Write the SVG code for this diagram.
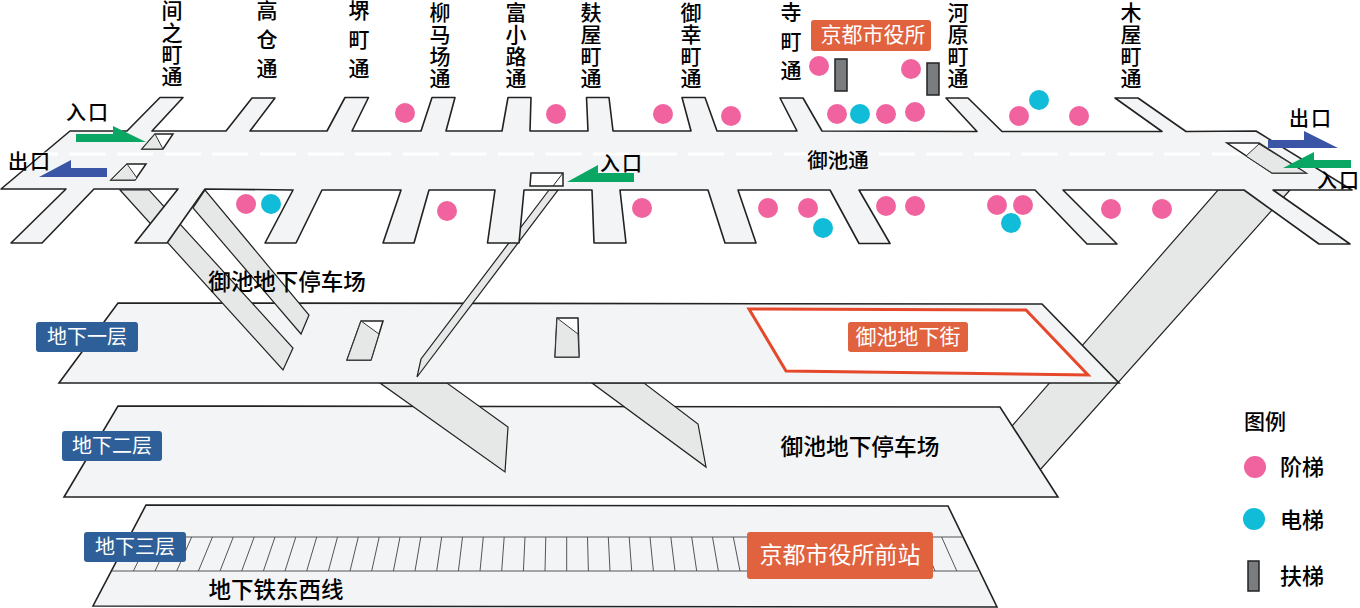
<svg xmlns="http://www.w3.org/2000/svg" width="1360" height="608" viewBox="0 0 1360 608">
<style>
text{font-family:"Noto Sans CJK SC","Noto Sans",sans-serif;fill:#000;font-weight:500}
.c{text-anchor:middle}
.w{fill:#fff;font-weight:400}
.v{writing-mode:vertical-rl;font-size:21px}
.v4{letter-spacing:1px}
.v3{letter-spacing:8px}
.floor{fill:#f3f4f5;stroke:#222;stroke-width:1.6}
.ramp{fill:#e6e7e7;stroke:#222;stroke-width:1.2}
.hole{fill:#fff;stroke:#222;stroke-width:1.5}
.gray{fill:#e6e7e7;stroke:#333;stroke-width:1}
.strip{stroke:#555;stroke-width:1;fill:none}
.pink{fill:#f0639f}
.blue{fill:#10bcd8}
.esc{fill:#7a7d80;stroke:#222;stroke-width:1.5}
.green{fill:#09a763}
.navy{fill:#3a55a5}
.tagb{fill:#2f5f98}
.tago{fill:#e0623e}
</style>
<g id="floor-b3">
<polygon class="floor" points="146,505 948,506 997,607 93,606"/>
<path class="strip" stroke-width="1.2" d="M134,537H963M112,571H978"/>
<path class="strip" d="M191.7,537L176.7,571M170.9,537L155,571M150,537L133.4,571M212.5,537L198.4,571M233.3,537L220,571M254.2,537L241.7,571M275,537L263.4,571M295.8,537L285,571M316.7,537L306.7,571M337.5,537L328.4,571M358.3,537L350,571M379.2,537L371.7,571M400,537L393.4,571M420.8,537L415,571M441.7,537L436.7,571M462.5,537L458.4,571M483.3,537L480,571M504.2,537L501.7,571M525,537L523.4,571M545.8,537L545,571M566.7,537L566.7,571M587.5,537L588.4,571M608.3,537L610,571M629.2,537L631.7,571M650,537L653.4,571M670.8,537L675,571M691.7,537L696.7,571M712.5,537L718.4,571M733.3,537L740,571M920.8,537L935,571M941.6,537L956.8,571"/>
<text x="276" y="598" class="c" font-size="22.5">地下铁东西线</text>
</g>
<g id="ramp-right-lower">
<polygon class="ramp" points="1218,190 1290,190 1040,470 1012,426"/>
</g>
<g id="floor-b2">
<polygon class="floor" points="118,406 1000,407 1058,497 64,497"/>
<text x="860" y="455" class="c" font-size="22.7">御池地下停车场</text>
</g>
<g id="ramps-b1-b2">
<polygon class="ramp" points="380,383 447,383 508,427 505,472"/>
<polygon class="ramp" points="592,383 644,383 698,424 706,467"/>
</g>
<g id="floor-b1">
<polygon class="floor" points="118,303 1042,304 1119,383 59,383"/>
<polygon fill="#fff" stroke="#e5482b" stroke-width="3" points="749,309 1026,310 1088,375 786,371"/>
<polygon class="hole" points="361,321 383,321 371,360 347,360"/>
<polygon class="gray" points="361,321 379,334 371,360 347,360"/>
<polygon class="hole" points="557,318 578,318 579,357 555,357"/>
<polygon class="gray" points="557,318 578,334 579,357 555,357"/>
</g>
<g id="ramps-street">
<polygon class="ramp" points="120,190 149,190 293,348 283,370"/>
<polygon class="ramp" points="193,208 205,190 309,315 301,334"/>
<polygon class="ramp" points="549,190 558,190 417,377 421,359"/>
</g>
<g id="street">
<polygon class="floor" stroke-linejoin="round" points="1,189 70,131 127,131 160,97.5 183,97.5 152,131 226,131 252,98 275,98 250,131 327,131 345,97.5 368.5,97.5 352,131 421,131 432,97.5 455,97.5 446,131 502,131 508,97.5 531,97.5 530,131 588,131 586.5,97.5 609,97.5 613,131 691,131 682,97.5 705,97.5 717,131 797,131 780,98 803,98 822,131 977,131.5 946,98 968,98 1002,131.5 1162,131.5 1115,98 1138,98 1186,131.5 1256,131 1352,190 1273,190 1350,244 1319,244 1244,190 1063,190 1117,244 1087,244 1035,190 859,190 890,243.5 859,243.5 830,190 738,190 756,243 725,243 708,190 620,190 626,243 594,243 592,190 524,190 519,243 487.5,243 495,190 429,190 414,243 383,243 401,190 322,190 296,243 265,243 293,190 205,189 167,243 135,243 178,189 94,189 42,243 11,243 66,189"/>
<line x1="22" y1="154" x2="1245" y2="154" stroke="#fff" stroke-width="3" stroke-dasharray="36 11.6"/>
<polygon class="hole" points="155,134 173,134 163,149 142,149"/>
<polygon class="gray" points="155,134 163,149 142,149"/>
<polygon class="hole" points="127,164 146,164 135,180 111,180"/>
<polygon class="gray" points="127,164 137,178 135,180 111,180"/>
<polygon class="hole" points="1227,143 1259,143 1306,173 1272,173"/>
<polygon class="gray" points="1259,144 1306,173 1272,173 1246,156"/>
<polygon class="hole" points="531,173 563,173 563,186 530,186"/>
<line x1="563" y1="173" x2="553" y2="186" stroke="#222" stroke-width="1"/>
<text x="838" y="168" class="c" font-size="20.5">御池通</text>
</g>
<g id="street-names">
<text x="172" y="0" class="v v4">间之町通</text>
<text x="267" y="0" class="v v3">高仓通</text>
<text x="359" y="0" class="v v3">堺町通</text>
<text x="440" y="2" class="v v4">柳马场通</text>
<text x="516" y="2" class="v v4">富小路通</text>
<text x="591" y="2" class="v v4">麸屋町通</text>
<text x="691" y="2" class="v v4">御幸町通</text>
<text x="791" y="2" class="v v3">寺町通</text>
<text x="958" y="2" class="v v4">河原町通</text>
<text x="1131" y="2" class="v v4">木屋町通</text>
</g>
<g id="city-hall">
<rect class="tago" x="811" y="20" width="120" height="31" rx="3"/>
<text x="873" y="42" class="c w" font-size="21">京都市役所</text>
</g>
<g id="escalators">
<rect class="esc" x="835" y="59" width="12" height="32"/>
<rect class="esc" x="927" y="63" width="12" height="32"/>
</g>
<g id="stairs">
<circle class="pink" cx="819" cy="66" r="10"/><circle class="pink" cx="911" cy="69" r="10"/>
<circle class="pink" cx="837" cy="114" r="10"/><circle class="pink" cx="886" cy="114" r="10"/><circle class="pink" cx="915" cy="112" r="10"/>
<circle class="pink" cx="405" cy="113" r="10"/><circle class="pink" cx="556" cy="114" r="10"/><circle class="pink" cx="663" cy="114" r="10"/><circle class="pink" cx="731" cy="116" r="10"/>
<circle class="pink" cx="1019" cy="116" r="10"/><circle class="pink" cx="1079" cy="116" r="10"/>
<circle class="pink" cx="1111" cy="209" r="10"/><circle class="pink" cx="1162" cy="209" r="10"/>
<circle class="pink" cx="997" cy="205" r="10"/><circle class="pink" cx="1023" cy="205" r="10"/>
<circle class="pink" cx="768" cy="208" r="10"/><circle class="pink" cx="808" cy="208" r="10"/>
<circle class="pink" cx="886" cy="206" r="10"/><circle class="pink" cx="915" cy="206" r="10"/>
<circle class="pink" cx="246" cy="204" r="10"/><circle class="pink" cx="447" cy="211" r="10"/><circle class="pink" cx="642" cy="208" r="10"/>
</g>
<g id="elevators">
<circle class="blue" cx="860" cy="114" r="10"/><circle class="blue" cx="1039" cy="100" r="10"/><circle class="blue" cx="1011" cy="223" r="10"/><circle class="blue" cx="823" cy="228" r="10"/><circle class="blue" cx="271" cy="204" r="10"/>
</g>
<g id="arrows">
<polygon class="green" points="76,134 113,134 113,126 146,142 76,142"/>
<polygon class="navy" points="39,177 71,160 71,168 107,168 107,177"/>
<polygon class="navy" points="1268,140 1304,140 1304,131 1338,148 1268,148"/>
<polygon class="green" points="1283,168 1314,152 1314,160 1351,160 1351,168"/>
<polygon class="green" points="567,182 598,165 598,173 634,173 634,182"/>
</g>
<g id="gates">
<text x="66" y="120" font-size="20" letter-spacing="2">入口</text>
<text x="8" y="169" font-size="20" letter-spacing="2">出口</text>
<text x="1289" y="126" font-size="20" letter-spacing="2">出口</text>
<text x="1317" y="188" font-size="20" letter-spacing="2">入口</text>
<text x="600" y="171" font-size="20" letter-spacing="2">入口</text>
</g>
<g id="mall-label">
<rect class="tago" x="848" y="322" width="120" height="30" rx="3"/>
<text x="908" y="344" class="c w" font-size="21">御池地下街</text>
</g>
<g id="station-label">
<rect class="tago" x="747" y="532" width="186" height="47" rx="3"/>
<text x="840" y="563" class="c w" font-size="23">京都市役所前站</text>
</g>
<g id="level-b1"><rect class="tagb" x="36" y="322" width="102" height="30" rx="3"/><text x="87" y="344" class="c w" font-size="20">地下一层</text></g>
<g id="level-b2"><rect class="tagb" x="62" y="431" width="100" height="30" rx="3"/><text x="112" y="453" class="c w" font-size="20">地下二层</text></g>
<g id="level-b3"><rect class="tagb" x="84" y="532" width="102" height="30" rx="3"/><text x="135" y="554" class="c w" font-size="20">地下三层</text></g>
<text id="parking-label" x="287" y="290" class="c" font-size="22.5">御池地下停车场</text>
<g id="legend">
<text x="1244" y="429" font-size="21">图例</text>
<circle class="pink" cx="1255" cy="467" r="11"/><text x="1280" y="475" font-size="22">阶梯</text>
<circle class="blue" cx="1254" cy="519" r="11"/><text x="1280" y="528" font-size="22">电梯</text>
<rect class="esc" x="1248" y="561" width="11" height="30"/><text x="1280" y="584" font-size="22">扶梯</text>
</g>
</svg>
